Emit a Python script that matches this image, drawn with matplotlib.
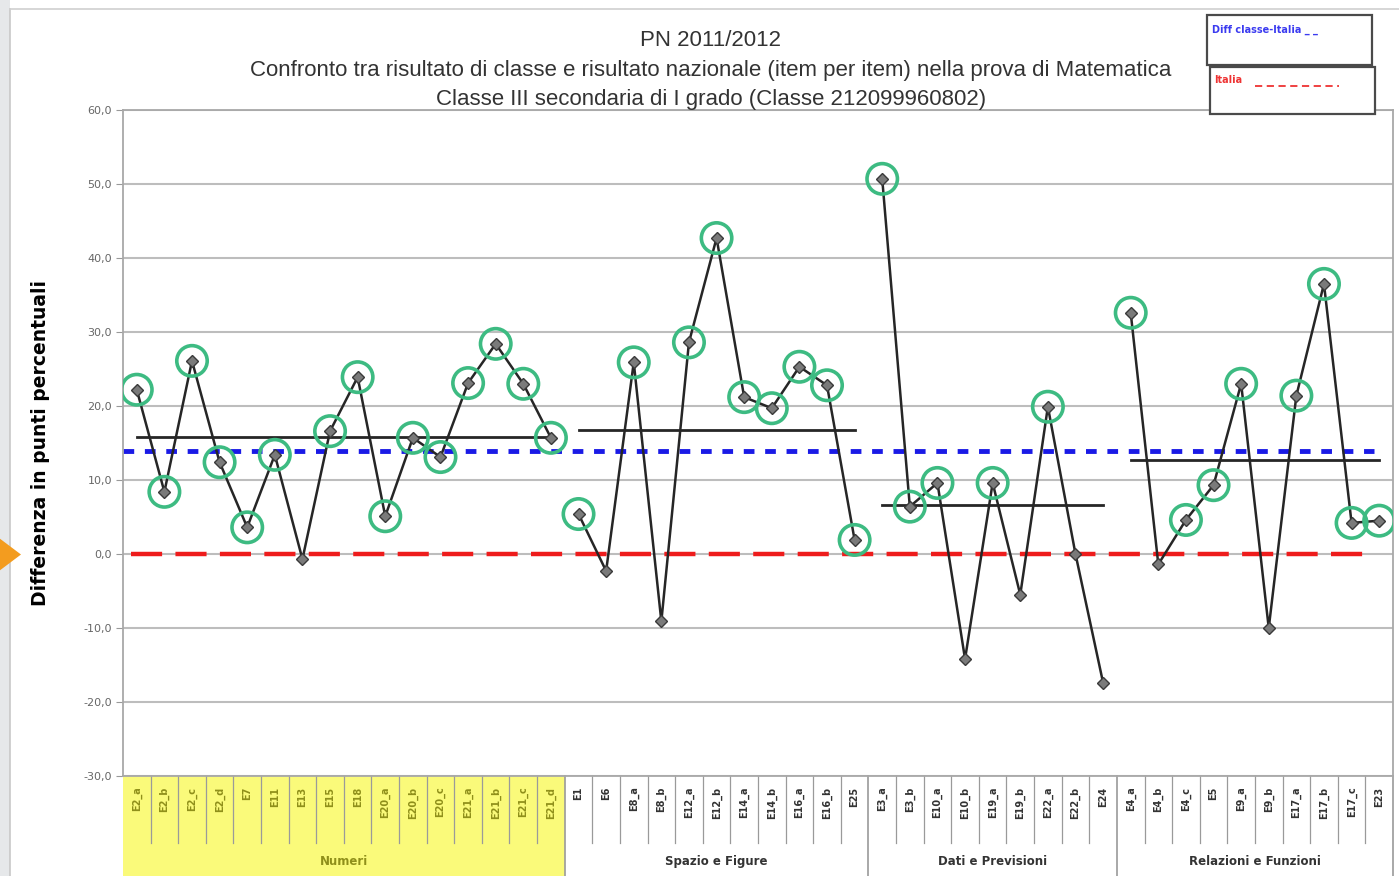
import matplotlib
matplotlib.use("Agg")
import matplotlib.pyplot as plt
import matplotlib.transforms as mtransforms
from matplotlib.patches import Rectangle, Polygon

# item labels, one list per area
numeri = ["E2_a", "E2_b", "E2_c", "E2_d", "E7", "E11", "E13", "E15", "E18",
          "E20_a", "E20_b", "E20_c", "E21_a", "E21_b", "E21_c", "E21_d"]
spazio = ["E1", "E6", "E8_a", "E8_b", "E12_a", "E12_b", "E14_a", "E14_b",
          "E16_a", "E16_b", "E25"]
dati = ["E3_a", "E3_b", "E10_a", "E10_b", "E19_a", "E19_b", "E22_a", "E22_b", "E24"]
relazioni = ["E4_a", "E4_b", "E4_c", "E5", "E9_a", "E9_b", "E17_a", "E17_b",
             "E17_c", "E23"]

# difference class - Italy, in percentage points
val_numeri = [22.2, 8.4, 26.1, 12.4, 3.6, 13.4, -0.7, 16.6, 23.9,
              5.1, 15.7, 13.1, 23.1, 28.4, 23.0, 15.7]
val_spazio = [5.4, -2.3, 25.9, -9.1, 28.6, 42.7, 21.2, 19.7, 25.3, 22.8, 1.9]
val_dati = [50.7, 6.4, 9.6, -14.2, 9.6, -5.5, 19.9, 0.0, -17.4]
val_relazioni = [32.6, -1.4, 4.6, 9.3, 23.0, -10.0, 21.4, 36.5, 4.2, 4.5]

# area averages (black horizontal lines)
group_means = [15.8, 16.8, 6.6, 12.7]
group_names = ["Numeri", "Spazio e Figure", "Dati e Previsioni", "Relazioni e Funzioni"]

diff_classe_italia = 13.9
italia = 0.0

groups = [numeri, spazio, dati, relazioni]
values = [val_numeri, val_spazio, val_dati, val_relazioni]

fig = plt.figure(figsize=(13.99, 8.76), dpi=100)
fig.patch.set_facecolor("white")

# screenshot frame around the chart
fig.patches.append(Rectangle((0, 0), 0.0075, 1, transform=fig.transFigure,
                             facecolor="#e6e8ea", edgecolor="none", zorder=0))
fig.lines.append(plt.Line2D([0.0075, 0.0075], [0, 0.99], transform=fig.transFigure,
                            color="#c8c8c8", lw=1.2))
fig.lines.append(plt.Line2D([0.0075, 1], [0.99, 0.99], transform=fig.transFigure,
                            color="#d0d0d0", lw=1.2))
fig.patches.append(Polygon([[0, 0.385], [0.015, 0.367], [0, 0.349]], closed=True,
                           transform=fig.transFigure, facecolor="#f39c1f",
                           edgecolor="none", zorder=5))

ax = fig.add_axes([0.0879, 0.1142, 0.9078, 0.7602])
ax.set_xlim(-0.5, 45.5)
ax.set_ylim(-30, 60)

ax.set_yticks(range(-30, 61, 10))
ax.set_yticklabels([f"{t:.1f}".replace(".", ",") for t in range(-30, 61, 10)],
                   fontsize=8, color="#666666")
ax.tick_params(axis="y", length=5, color="#999999", pad=3)
ax.tick_params(axis="x", bottom=False, labelbottom=False)
ax.grid(axis="y", color="#bdbdbd", lw=1.5)
ax.set_axisbelow(True)
for s in ["left", "right", "bottom", "top"]:
    ax.spines[s].set_color("#a8a8a8")
    ax.spines[s].set_linewidth(1.3)

ax.set_ylabel("Differenza in punti percentuali", fontsize=13.5, fontweight="bold",
              labelpad=24)

# reference lines
ax.plot([-0.5, 44.8], [diff_classe_italia] * 2, color="#1a1ae6", lw=3.5,
        dashes=(2.2, 2.2), zorder=2)
ax.plot([-0.2, 44.6], [italia] * 2, color="#ee1c1c", lw=3.2,
        dashes=(7, 3), zorder=2)

start = 0
bounds = []
for names, vals, mean in zip(groups, values, group_means):
    xs = list(range(start, start + len(names)))
    ax.plot(xs, vals, color="#262626", lw=1.8, marker="D", markersize=6.5,
            markerfacecolor="#7a7a7a", markeredgecolor="#3a3a3a", zorder=4)
    ax.plot([xs[0], xs[-1]], [mean, mean], color="#262626", lw=2, zorder=3)
    pos = [(x, v) for x, v in zip(xs, vals) if v > 0.5]
    ax.scatter([p[0] for p in pos], [p[1] for p in pos], s=480,
               facecolors="none", edgecolors="#3dbb82", linewidths=2.6, zorder=5)
    bounds.append((start, start + len(names)))
    start += len(names)

# category table under the plot
trans = mtransforms.blended_transform_factory(ax.transData, ax.transAxes)
all_names = [n for g in groups for n in g]
for gi, (b0, b1) in enumerate(bounds):
    numeri_group = gi == 0
    if numeri_group:
        ax.add_patch(Rectangle((b0 - 0.5, -0.152), b1 - b0, 0.152, transform=trans,
                               facecolor="#fafa7a", edgecolor="none",
                               clip_on=False, zorder=1))
    txt_col = "#8f8f1a" if numeri_group else "#333333"
    for i in range(b0, b1):
        ax.text(i, -0.016, all_names[i], transform=trans, rotation=90,
                ha="center", va="top", fontsize=7, fontweight="bold",
                color=txt_col, clip_on=False)
        if i > b0:
            ax.plot([i - 0.5, i - 0.5], [0, -0.1], transform=trans,
                    color="#9a9a9a", lw=0.9, clip_on=False)
    ax.text((b0 + b1 - 1) / 2, -0.129, group_names[gi], transform=trans,
            ha="center", va="center", fontsize=8.5, fontweight="bold",
            color=txt_col, clip_on=False)
    if gi > 0:
        ax.plot([b0 - 0.5, b0 - 0.5], [0, -0.16], transform=trans,
                color="#9a9a9a", lw=1.2, clip_on=False)
ax.plot([45.5, 45.5], [0, -0.16], transform=trans, color="#9a9a9a", lw=1.2,
        clip_on=False)

# title
title_font = ["Liberation Sans", "DejaVu Sans"]
fig.text(0.508, 0.954, "PN 2011/2012", ha="center", va="center", fontsize=16,
         color="#333333", family=title_font)
fig.text(0.508, 0.920,
         "Confronto tra risultato di classe e risultato nazionale (item per item) "
         "nella prova di Matematica", ha="center", va="center", fontsize=16,
         color="#333333", family=title_font)
fig.text(0.508, 0.886, "Classe III secondaria di I grado (Classe 212099960802)",
         ha="center", va="center", fontsize=16, color="#333333", family=title_font)

# legend boxes
fig.patches.append(Rectangle((0.863, 0.926), 0.118, 0.057, transform=fig.transFigure,
                             facecolor="white", edgecolor="#4a4a4a", lw=1.6, zorder=6))
fig.patches.append(Rectangle((0.865, 0.870), 0.118, 0.053, transform=fig.transFigure,
                             facecolor="white", edgecolor="#4a4a4a", lw=1.6, zorder=6))
fig.text(0.866, 0.966, "Diff classe-Italia _ _", fontsize=7, fontweight="bold",
         color="#3b3bf0", va="center", zorder=7)
fig.text(0.868, 0.909, "Italia", fontsize=7, fontweight="bold", color="#ee3333",
         va="center", zorder=7)
fig.lines.append(plt.Line2D([0.897, 0.957], [0.902, 0.902], transform=fig.transFigure,
                            color="#ee3333", lw=1.3, dashes=(4, 2.5), zorder=7))

fig.savefig("out.png", dpi=100)
